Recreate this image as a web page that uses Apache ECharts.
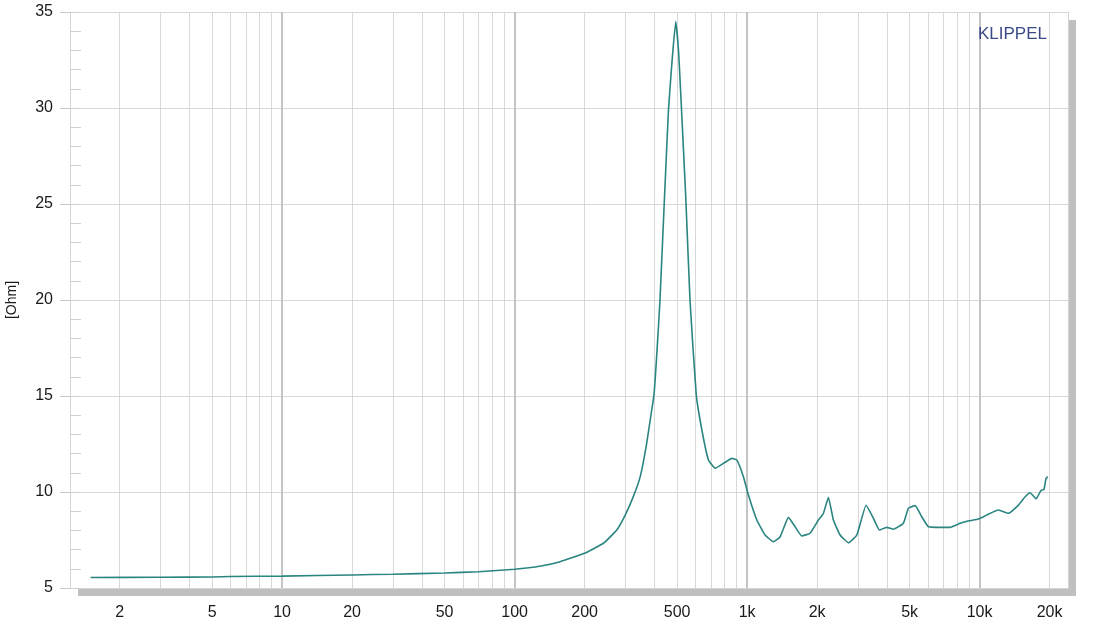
<!DOCTYPE html>
<html>
<head>
<meta charset="utf-8">
<script src="https://cdn.jsdelivr.net/npm/echarts@6/dist/echarts.min.js"></script>
<style>
html,body{margin:0;padding:0;background:#fff;}
#chart{width:1096px;height:631px;}
</style>
</head>
<body>
<div id="chart"></div>
<script>
// Frequency (Hz) and impedance magnitude (Ohm)
const freqHz = [1.5, 3, 5, 6, 10, 20, 30, 50, 70, 100, 130, 157, 200, 241, 275, 299, 324, 347, 368, 385, 398, 410, 422, 440, 459, 476, 493, 507, 519, 545, 568, 604, 639, 682, 729, 791, 860, 903, 964, 1013, 1101, 1195, 1298, 1387, 1506, 1608, 1718, 1866, 2027, 2129, 2238, 2350, 2512, 2728, 2965, 3250, 3494, 3707, 3990, 4259, 4700, 4939, 5281, 5642, 6026, 6763, 7464, 8245, 9000, 9884, 10740, 12050, 13300, 14690, 15700, 16490, 17500, 18340, 18930, 19300, 19640];
const impedanceOhm = [5.55, 5.56, 5.57, 5.60, 5.62, 5.68, 5.72, 5.78, 5.85, 5.98, 6.15, 6.37, 6.81, 7.33, 8.02, 8.80, 9.76, 10.80, 12.36, 13.92, 15.10, 17.4, 20.0, 25.0, 29.9, 32.5, 34.5, 33.0, 30.6, 25.3, 20.0, 15.10, 13.23, 11.67, 11.23, 11.49, 11.75, 11.67, 10.80, 9.84, 8.54, 7.76, 7.41, 7.67, 8.68, 8.19, 7.71, 7.85, 8.54, 8.89, 9.72, 8.54, 7.76, 7.36, 7.76, 9.31, 8.63, 8.02, 8.16, 8.06, 8.37, 9.15, 9.29, 8.71, 8.19, 8.16, 8.16, 8.37, 8.50, 8.59, 8.80, 9.06, 8.89, 9.32, 9.75, 9.96, 9.64, 10.07, 10.14, 10.70, 10.80];
const xLabelFreqs = [2, 5, 10, 20, 50, 100, 200, 500, 1000, 2000, 5000, 10000, 20000];
const decadeFreqs = [10, 100, 1000, 10000];
const freqMin = 1.224, freqMax = 24000;

const gridFreqs = [];
for (let d = 1; d <= 10000; d *= 10) {
  for (let m = 1; m <= 9; m++) {
    const f = m * d;
    if (f >= freqMin && f <= freqMax && decadeFreqs.indexOf(f) < 0) gridFreqs.push(f);
  }
}
const lg = v => Math.log10(v);
const seriesData = freqHz.map((f, i) => [lg(f), impedanceOhm[i]]);
const FONT = 'Liberation Sans, Arial, sans-serif';
const BORDER = '#d4d4d4';

const chart = echarts.init(document.getElementById('chart'), null, {renderer: 'canvas'});
chart.setOption({
  animation: false,
  backgroundColor: '#fff',
  title: {
    text: 'KLIPPEL', right: 49, top: 26, padding: 0,
    textStyle: {color: '#3b4a86', fontWeight: 'normal', fontSize: 17, fontFamily: FONT}
  },
  grid: {
    left: 70, top: 12, right: 28, bottom: 43,
    outerBoundsMode: 'none', containLabel: false,
    show: true, backgroundColor: '#fff', borderWidth: 0,
    shadowColor: '#c0c0c0', shadowBlur: 0, shadowOffsetX: 8, shadowOffsetY: 8
  },
  xAxis: [{
    type: 'value', min: lg(freqMin), max: lg(freqMax),
    axisLine: {show: true, lineStyle: {color: BORDER}},
    axisTick: {show: false, customValues: gridFreqs.map(lg)},
    splitLine: {show: true, lineStyle: {color: '#d8d8d8', width: 1}},
    axisLabel: {
      customValues: xLabelFreqs.map(lg), margin: 17,
      color: '#1a1a1a', fontSize: 16, fontFamily: FONT,
      formatter: v => { const f = Math.round(Math.pow(10, v)); return f >= 1000 ? (f / 1000) + 'k' : String(f); }
    }
  }, {
    type: 'value', min: lg(freqMin), max: lg(freqMax), position: 'bottom',
    axisLine: {show: false},
    axisTick: {show: false, customValues: decadeFreqs.map(lg)},
    splitLine: {show: true, lineStyle: {color: '#c4c4c4', width: 2}},
    axisLabel: {show: false}
  }],
  yAxis: [{
    type: 'value', min: 5, max: 35, interval: 5,
    name: '[Ohm]', nameLocation: 'middle', nameRotate: 90, nameGap: 51,
    nameTextStyle: {color: '#1a1a1a', fontSize: 14, fontFamily: FONT},
    axisLine: {show: true, lineStyle: {color: BORDER}},
    axisTick: {show: true, length: 10, lineStyle: {color: '#c8c8c8'}},
    splitLine: {show: true, lineStyle: {color: '#d8d8d8'}},
    axisLabel: {color: '#1a1a1a', fontSize: 16, fontFamily: FONT, margin: 17}
  }, {
    type: 'value', min: 5, max: 35, interval: 1, position: 'left', offset: 0,
    axisLine: {show: false},
    axisTick: {show: true, inside: true, length: 11, lineStyle: {color: '#d0d0d0'}},
    splitLine: {show: false},
    axisLabel: {show: false}
  }, {
    type: 'value', min: 5, max: 35, interval: 5, position: 'right', offset: 0,
    axisLine: {show: true, lineStyle: {color: BORDER}},
    axisTick: {show: false},
    splitLine: {show: false},
    axisLabel: {show: false}
  }],
  series: [{
    type: 'line', xAxisIndex: 0, yAxisIndex: 0,
    data: seriesData, showSymbol: false, smooth: 0.12,
    lineStyle: {color: '#2a8580', width: 1.6},
    z: 5
  }]
});
</script>
</body>
</html>
